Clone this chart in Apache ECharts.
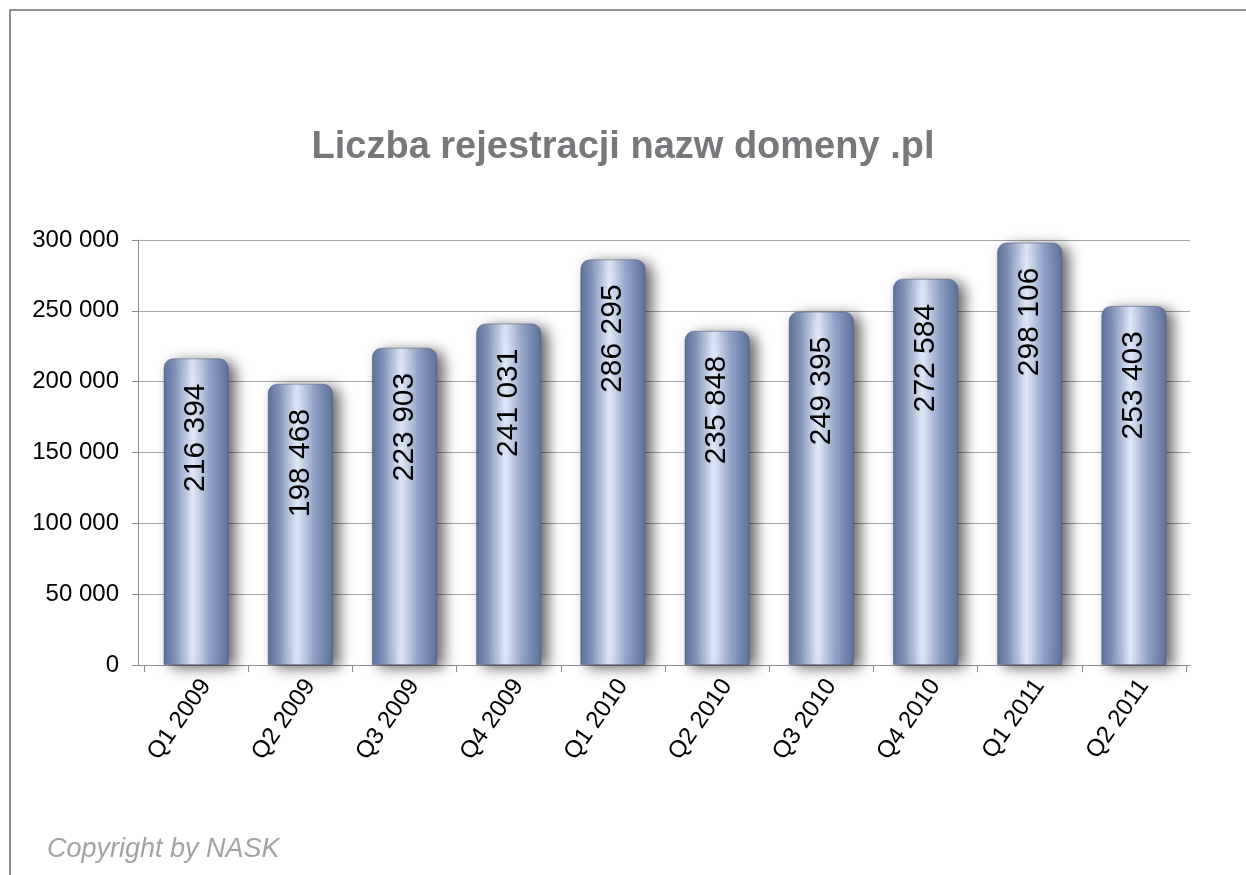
<!DOCTYPE html>
<html>
<head>
<meta charset="utf-8">
<script src="https://cdn.jsdelivr.net/npm/echarts@6/dist/echarts.min.js"></script>
<style>
html,body{margin:0;padding:0;background:#fff;}
#c{width:1246px;height:875px;}
</style>
</head>
<body>
<div id="c"></div>
<script>
var categories = ['Q1 2009','Q2 2009','Q3 2009','Q4 2009','Q1 2010','Q2 2010','Q3 2010','Q4 2010','Q1 2011','Q2 2011'];
var registrations = [216394, 198468, 223903, 241031, 286295, 235848, 249395, 272584, 298106, 253403];
var yTicks = [0, 50000, 100000, 150000, 200000, 250000, 300000];

function fmt(v){ return String(v).replace(/\B(?=(\d{3})+(?!\d))/g, ' '); }

var FONT = 'Liberation Sans, Arial, sans-serif';
var chart = echarts.init(document.getElementById('c'));
chart.setOption({
  animation: false,
  backgroundColor: '#fff',
  graphic: [
    { type: 'polyline', shape: { points: [[10, 880], [10, 10], [1250, 10]] },
      style: { stroke: '#6e6e6e', lineWidth: 1.5, fill: null }, silent: true }
  ],
  title: [
    { text: 'Liczba rejestracji nazw domeny .pl', left: 'center', top: 124,
      textStyle: { fontFamily: FONT, fontWeight: 'bold', fontSize: 38, color: '#77787b' } },
    { text: 'Copyright by NASK', left: 42, top: 831,
      textStyle: { fontFamily: FONT, fontStyle: 'italic', fontWeight: 'normal', fontSize: 27, color: '#a2a3a6' } }
  ],
  grid: [
    { left: 138, right: 56, top: 240, bottom: 210, containLabel: false },
    { left: 144, right: 60, top: 240, bottom: 210, containLabel: false }
  ],
  xAxis: [
    { type: 'category', gridIndex: 0, data: categories,
      axisLine: { lineStyle: { color: '#8c8c8c', width: 1 } },
      axisTick: { show: false }, axisLabel: { show: false } },
    { type: 'category', gridIndex: 1, data: categories,
      axisLine: { show: false },
      axisTick: { show: true, alignWithLabel: false, length: 7, lineStyle: { color: '#8c8c8c' } },
      axisLabel: { rotate: 55, color: '#000', fontSize: 24, fontFamily: FONT, margin: 10, interval: 0,
        align: 'right', verticalAlign: 'top' } }
  ],
  yAxis: [
    { type: 'value', gridIndex: 0, min: 0, max: 300000, interval: 50000,
      axisLine: { show: true, lineStyle: { color: '#8c8c8c', width: 1 } },
      axisTick: { show: true, length: 6, lineStyle: { color: '#8c8c8c' } },
      splitLine: { lineStyle: { color: '#a6a6a6', width: 1 } },
      axisLabel: { color: '#000', fontSize: 24, fontFamily: FONT, margin: 19,
        formatter: function(v){ return yTicks.indexOf(v) >= 0 ? fmt(v) : ''; } } },
    { type: 'value', gridIndex: 1, min: 0, max: 300000, interval: 50000, show: false,
      splitLine: { show: false } }
  ],
  series: [{
    type: 'bar', xAxisIndex: 1, yAxisIndex: 1, data: registrations, barWidth: 65,
    itemStyle: {
      borderRadius: [9, 9, 0, 0],
      borderColor: 'rgba(70,85,120,0.6)', borderWidth: 0.8,
      shadowColor: 'rgba(0,0,0,0.6)', shadowBlur: 14, shadowOffsetX: 7, shadowOffsetY: 3,
      color: new echarts.graphic.LinearGradient(0, 0, 1, 0, [
        { offset: 0, color: '#5d709b' },
        { offset: 0.18, color: '#8597bd' },
        { offset: 0.45, color: '#dfe8f6' },
        { offset: 0.72, color: '#8fa1c5' },
        { offset: 1, color: '#5f719c' }
      ])
    },
    label: {
      show: true, position: 'insideTop', rotate: 90, align: 'right', verticalAlign: 'middle', distance: 25,
      color: '#000', fontSize: 30, fontFamily: FONT,
      formatter: function(p){ return fmt(p.value); }
    }
  }]
});
</script>
</body>
</html>
